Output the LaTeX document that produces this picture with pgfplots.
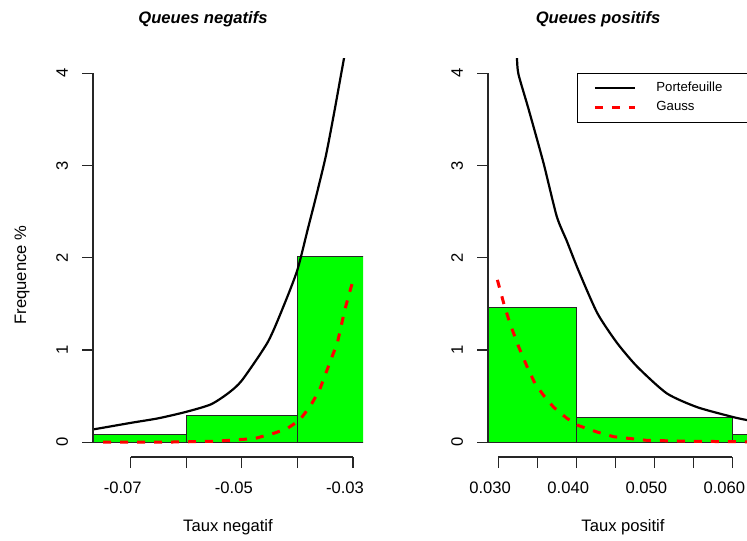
\documentclass[border=0pt]{standalone}
\usepackage{pgfplots}
\pgfplotsset{compat=1.18}
\usepackage{fontspec}
\setmainfont{Liberation Sans}

\definecolor{histgreen}{RGB}{0,255,0}
\newcommand{\lblfont}{\fontsize{8.3}{10}\selectfont}

\pgfplotsset{
  rpanel/.style={
    scale only axis,
    anchor=south west,
    ymin=-0.16, ymax=4.16,
    height=199.25pt,
    axis x line*=bottom, axis y line*=left,
    axis line style={draw=none},
    ytick={0,1,2,3,4},
    yticklabels={0,1,2,3,4},
    scaled x ticks=false,
    tick align=outside,
    major tick length=5.5pt,
    tick style={black!85, line width=0.6pt},
    clip mode=individual,
    yticklabel style={rotate=90, anchor=south},
    xticklabel style={anchor=north, xshift=-4pt},
    yticklabel shift=3.5pt,
    xticklabel shift=3.2pt,
    tick label style={font=\lblfont},
  },
  histo/.style={ybar interval, fill=histgreen, draw=black!85, line width=0.5pt, forget plot},
  port/.style={black, line width=1.1pt, smooth, tension=0.4},
  gauss/.style={red, line width=1.5pt, dash pattern=on 4pt off 4.5pt},
}

\begin{document}
\begin{tikzpicture}
% ---- negative tail ----
\begin{axis}[rpanel,
  at={(46.5pt,41.5pt)}, width=135pt,
  xmin=-0.0768, xmax=-0.0282,
  xtick={-0.07,-0.06,-0.05,-0.04,-0.03},
  xticklabels={-0.07,,-0.05,,-0.03},
]
\addplot[histo] coordinates {(-0.08,0.08) (-0.06,0.286) (-0.04,2.01) (-0.02,2.01)};
\addplot[port] coordinates {
  (-0.0785,0.13) (-0.0767,0.14) (-0.070,0.21) (-0.065,0.26) (-0.060,0.33)
  (-0.0556,0.41) (-0.0525,0.53) (-0.050,0.67) (-0.0453,1.09) (-0.0424,1.49)
  (-0.0400,1.87) (-0.0381,2.32) (-0.0367,2.65) (-0.0349,3.10)
  (-0.0334,3.57) (-0.0322,3.97) (-0.0316,4.17) (-0.0310,4.40)
};
\addplot[gauss] coordinates {
  (-0.0750,0.00) (-0.0650,0.00) (-0.0550,0.01) (-0.0477,0.04) (-0.0441,0.10)
  (-0.0418,0.15) (-0.0396,0.24) (-0.0376,0.40) (-0.0360,0.57) (-0.0340,0.89)
  (-0.0328,1.08) (-0.0315,1.43) (-0.0304,1.67) (-0.0300,1.75)
};
\draw[black!85, line width=0.6pt] (axis cs:-0.0768,0) -- (axis cs:-0.0768,4);
\draw[black!85, line width=0.6pt] (axis cs:-0.07,-0.16) -- (axis cs:-0.03,-0.16);
\end{axis}

% ---- positive tail ----
\begin{axis}[rpanel,
  at={(244pt,41.5pt)}, width=137pt,
  xmin=0.0287, xmax=0.0638,
  xtick={0.030,0.035,0.040,0.045,0.050,0.055,0.060},
  xticklabels={0.030,,0.040,,0.050,,0.060},
  legend style={at={(axis cs:0.0401,4)}, anchor=north west, draw=black, fill=white,
    font=\fontsize{6.6}{8}\selectfont, inner xsep=8pt, inner ysep=3pt,
    nodes={inner ysep=1.2pt, text width=75pt}, row sep=1pt,
    /tikz/every odd column/.append style={column sep=8pt}},
  legend cell align=left,
  legend image code/.code={\draw[#1] (0pt,0pt) -- (20pt,0pt);},
]
\addplot[histo] coordinates {(0.02,1.46) (0.04,0.27) (0.06,0.08) (0.08,0.08)};
\addplot[port] coordinates {
  (0.0322,4.40) (0.0324,4.17) (0.0326,3.99) (0.0339,3.61) (0.0358,3.03)
  (0.0375,2.45) (0.0388,2.18) (0.0403,1.86) (0.0427,1.40) (0.0452,1.08)
  (0.0478,0.82) (0.0516,0.53) (0.0555,0.38) (0.0600,0.275) (0.0619,0.24) (0.0640,0.21)
};
\addlegendentry{Portefeuille}
\addplot[gauss] coordinates {
  (0.0299,1.76) (0.0307,1.51) (0.0315,1.29) (0.0326,1.04) (0.0337,0.82)
  (0.0347,0.64) (0.0358,0.51) (0.0371,0.38) (0.0388,0.26) (0.0403,0.18)
  (0.0427,0.11) (0.0448,0.06) (0.0491,0.02) (0.0550,0.01) (0.0620,0.005)
};
\addlegendentry{Gauss}
\draw[black!85, line width=0.6pt] (axis cs:0.0287,0) -- (axis cs:0.0287,4);
\draw[black!85, line width=0.6pt] (axis cs:0.030,-0.16) -- (axis cs:0.060,-0.16);
\end{axis}

% titles and axis labels
\node[font=\bfseries\itshape\lblfont] at (101.5pt,260.5pt) {Queues negatifs};
\node[font=\bfseries\itshape\lblfont] at (299pt,260.5pt) {Queues positifs};
\node[rotate=90, font=\lblfont] at (11pt,132.5pt) {Frequence \%};
\node[font=\lblfont] at (114pt,6.5pt) {Taux negatif};
\node[font=\lblfont] at (311.5pt,6.5pt) {Taux positif};

\pgfresetboundingbox
\useasboundingbox (0,0) rectangle (373.5pt,270pt);
\end{tikzpicture}
\end{document}
